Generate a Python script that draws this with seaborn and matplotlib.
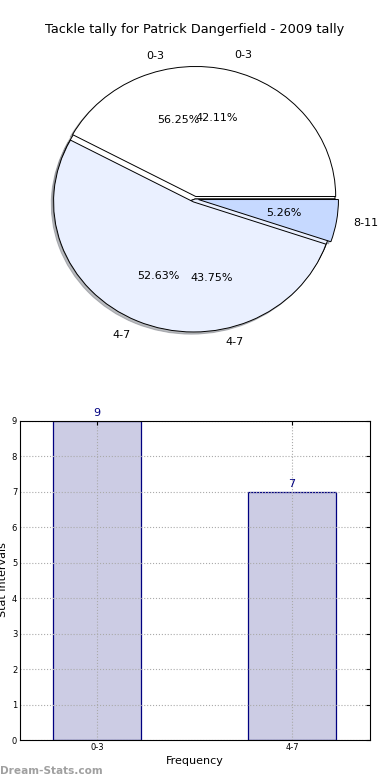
import matplotlib
matplotlib.use("Agg")
import matplotlib.pyplot as plt
import seaborn as sns

sns.set_style("white")
plt.rcParams["font.family"] = ["DejaVu Sans"]
plt.rcParams["text.color"] = "black"
plt.rcParams["axes.labelcolor"] = "black"
plt.rcParams["xtick.color"] = "black"
plt.rcParams["ytick.color"] = "black"

# pie data (two overlaid pies)
pie_a_labels = ["0-3", "4-7"]
pie_a_values = [9, 7]
pie_a_colors = ["#ffffff", "#eaf0ff"]

pie_b_labels = ["0-3", "4-7", "8-11"]
pie_b_values = [8, 10, 1]
pie_b_colors = ["#ffffff", "#eaf0ff", "#c6d9ff"]

# bar data
bar_labels = ["0-3", "4-7"]
bar_counts = [9, 7]

title = "Tackle tally for Patrick Dangerfield - 2009 tally"

fig = plt.figure(figsize=(3.9, 7.8), dpi=100)

# pie
ax1 = fig.add_axes([20 / 390, 1 - 361.5 / 780, 350 / 390, 325 / 780])
wp = {"edgecolor": "black", "linewidth": 0.7}
shadow = {"ox": -0.012, "oy": -0.012, "shade": 0.5}
ax1.pie(pie_a_values, labels=pie_a_labels, colors=pie_a_colors, autopct="%1.2f%%",
        labeldistance=1.12, pctdistance=0.62,
        shadow=shadow, wedgeprops=wp, textprops={"fontsize": 8})
ax1.pie(pie_b_values, labels=pie_b_labels, colors=pie_b_colors, autopct="%1.2f%%",
        labeldistance=1.12, pctdistance=0.62,
        explode=(0.02, 0.025, 0.025), shadow=shadow, wedgeprops=wp,
        textprops={"fontsize": 8})
ax1.set_aspect("auto")
ax1.set_xlim(-1.25, 1.25)
ax1.set_ylim(-1.25, 1.25)
fig.text(0.5, 1 - 30 / 780, title, ha="center", va="center", fontsize=9.3)

# bars
ax2 = fig.add_axes([20 / 390, 1 - 740 / 780, 350 / 390, 319 / 780])
sns.barplot(x=bar_labels, y=bar_counts, color="#ccccе4".replace("е", "e"), saturation=1,
            edgecolor="#000080", linewidth=0.9, width=0.45, ax=ax2)
ax2.bar_label(ax2.containers[0], padding=2, color="#000080", fontsize=8)
ax2.set_xlim(-0.395, 1.4)
ax2.set_ylim(0, 9)
ax2.set_yticks(range(10))
ax2.grid(True, linestyle=":", color="#aaaaaa", linewidth=0.8)
ax2.set_axisbelow("line")
for s in ax2.spines.values():
    s.set_color("black")
    s.set_linewidth(0.8)
ax2.tick_params(direction="in", labelsize=6, length=3, top=True, right=True, pad=2)
ax2.set_xlabel("Frequency", fontsize=8, labelpad=3)
ax2.set_ylabel("")
fig.text(3 / 390, 1 - 580 / 780, "Stat Intervals", rotation=90, ha="center", va="center", fontsize=8)

fig.text(0.0, 1 - 771 / 780, "Dream-Stats.com", color="#a0a0a0", fontsize=7.6,
         fontweight="bold", ha="left", va="center")

fig.savefig("out.png", dpi=100)
